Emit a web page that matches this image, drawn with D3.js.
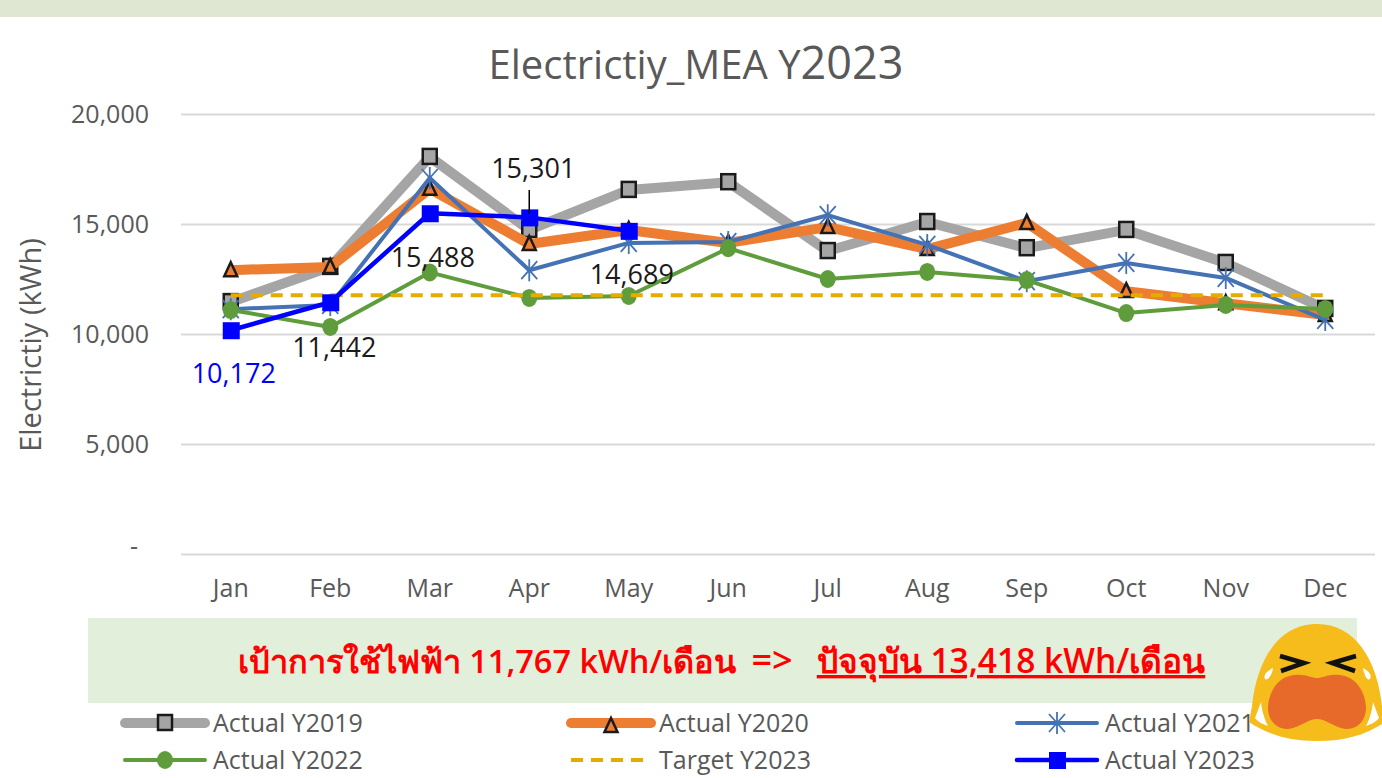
<!DOCTYPE html>
<html>
<head>
<meta charset="utf-8">
<script src="https://cdn.jsdelivr.net/npm/d3@7"></script>
<style>
html, body { margin: 0; padding: 0; background: #fff; }
svg { display: block; }
text { font-family: "Open Sans", "Noto Sans", sans-serif; }
</style>
</head>
<body>
<div id="chart"></div>
<script>
// Chart values
var months = ["Jan", "Feb", "Mar", "Apr", "May", "Jun", "Jul", "Aug", "Sep", "Oct", "Nov", "Dec"];
var actual2019 = [11450, 13050, 18050, 14730, 16550, 16900, 13770, 15090, 13900, 14730, 13230, 11140];
var actual2020 = [12900, 13050, 16600, 14090, 14730, 14140, 14860, 13860, 15050, 11950, 11400, 10860];
var actual2021 = [11130, 11320, 17090, 12900, 14140, 14180, 15400, 14050, 12400, 13230, 12550, 10640];
var actual2022 = [11090, 10320, 12800, 11640, 11730, 13900, 12500, 12820, 12450, 10950, 11320, 11140];
var target2023 = [11767, 11767, 11767, 11767, 11767, 11767, 11767, 11767, 11767, 11767, 11767, 11767];
var actual2023 = [10172, 11442, 15488, 15301, 14689];
var yTicks = [0, 5000, 10000, 15000, 20000];

var svgWidth = 1382;
var svgHeight = 778;

var svg = d3.select("#chart")
    .append("svg")
    .attr("width", svgWidth)
    .attr("height", svgHeight);

// Band across the top of the slide
svg.append("rect")
    .attr("width", svgWidth)
    .attr("height", 17)
    .attr("fill", "#dfe6d1");

// Scales
var xScale = d3.scaleBand()
    .domain(months)
    .range([181, 1375]);

var yScale = d3.scaleLinear()
    .domain([0, 20000])
    .range([554, 114]);

// Series drawn in the same order as the original
var series = [
    { name: "Actual Y2019", values: actual2019, color: "#a5a5a5", width: 10, marker: "square" },
    { name: "Actual Y2020", values: actual2020, color: "#ed7d31", width: 10, marker: "triangle" },
    { name: "Actual Y2021", values: actual2021, color: "#4472b4", width: 4, marker: "star" },
    { name: "Actual Y2022", values: actual2022, color: "#5f9c3c", width: 4, marker: "circle" },
    { name: "Target Y2023", values: target2023, color: "#e5ac00", width: 4, marker: "none", dash: "12,8" },
    { name: "Actual Y2023", values: actual2023, color: "#0000ff", width: 4.5, marker: "blue" }
];

// Gridlines and y axis
var yAxis = d3.axisLeft(yScale)
    .tickValues(yTicks)
    .tickSize(-(1375 - 181))
    .tickPadding(32)
    .tickFormat(function (d) { return d === 0 ? "-" : d3.format(",")(d); });

var yGroup = svg.append("g")
    .attr("transform", "translate(181,0)")
    .call(yAxis);
yGroup.select(".domain").remove();
yGroup.selectAll("line").attr("stroke", "#d9d9d9").attr("stroke-width", 2);
yGroup.selectAll("text").attr("fill", "#595959").attr("font-size", 25);
// the zero tick sits a bit further left and higher
yGroup.selectAll("text").filter(function (d) { return d === 0; })
    .attr("dx", -11)
    .attr("dy", "0");

// x axis
var xAxis = d3.axisBottom(xScale).tickSize(0).tickPadding(25);
var xGroup = svg.append("g")
    .attr("transform", "translate(0,554)")
    .call(xAxis);
xGroup.select(".domain").remove();
xGroup.selectAll("text").attr("fill", "#595959").attr("font-size", 25);

// Title and axis label
var title = svg.append("text")
    .attr("x", 696)
    .attr("y", 79)
    .attr("text-anchor", "middle")
    .attr("fill", "#595959")
    .attr("font-size", 40)
    .text("Electrictiy_MEA Y");
title.append("tspan")
    .attr("font-size", 45)
    .text("2023");

svg.append("text")
    .attr("transform", "translate(41,345) rotate(-90)")
    .attr("text-anchor", "middle")
    .attr("fill", "#595959")
    .attr("font-size", 29)
    .text("Electrictiy (kWh)");

// Marker drawing, used by the plot and the legend
function drawMarker(group, type) {
    if (type === "square") {
        group.append("rect")
            .attr("x", -7).attr("y", -8).attr("width", 14).attr("height", 15)
            .attr("fill", "#a5a5a5").attr("stroke", "#1a1a1a").attr("stroke-width", 2.5);
    } else if (type === "triangle") {
        group.append("path")
            .attr("d", "M0,-8L6.5,6L-6.5,6Z")
            .attr("fill", "#ed7d31").attr("stroke", "#1a1a1a").attr("stroke-width", 2.5);
    } else if (type === "star") {
        group.append("path")
            .attr("d", "M-8,-9L8,9M-8,9L8,-9M0,-11L0,11")
            .attr("fill", "none").attr("stroke", "#4472b4").attr("stroke-width", 1.8);
    } else if (type === "circle") {
        group.append("ellipse")
            .attr("rx", 8).attr("ry", 9)
            .attr("fill", "#5f9c3c");
    } else if (type === "blue") {
        group.append("rect")
            .attr("x", -8).attr("y", -8).attr("width", 17).attr("height", 17)
            .attr("fill", "#0000ff");
    }
}

var line = d3.line()
    .x(function (d, i) { return xScale(months[i]) + xScale.bandwidth() / 2; })
    .y(function (d) { return yScale(d); });

series.forEach(function (s) {
    var group = svg.append("g");

    group.append("path")
        .datum(s.values)
        .attr("fill", "none")
        .attr("stroke", s.color)
        .attr("stroke-width", s.width)
        .attr("stroke-linejoin", "round")
        .attr("stroke-dasharray", s.dash || null)
        .attr("d", line);

    s.values.forEach(function (v, i) {
        var m = group.append("g")
            .attr("transform", "translate(" + (xScale(months[i]) + xScale.bandwidth() / 2) + "," + yScale(v) + ")");
        drawMarker(m, s.marker);
    });
});

// Data labels of the 2023 series
var labelOffsets = [[3, 53], [4, 55], [3, 54], [4, -39], [3, 53]];
var labelColors = ["#0000ff", "#1a1a1a", "#1a1a1a", "#1a1a1a", "#1a1a1a"];

actual2023.forEach(function (v, i) {
    svg.append("text")
        .attr("x", xScale(months[i]) + xScale.bandwidth() / 2 + labelOffsets[i][0])
        .attr("y", yScale(v) + labelOffsets[i][1])
        .attr("text-anchor", "middle")
        .attr("fill", labelColors[i])
        .attr("font-size", 27)
        .text(d3.format(",")(v));
});

// Leader line for the April label
svg.append("line")
    .attr("x1", xScale("Apr") + xScale.bandwidth() / 2)
    .attr("x2", xScale("Apr") + xScale.bandwidth() / 2)
    .attr("y1", 190)
    .attr("y2", 214)
    .attr("stroke", "#000")
    .attr("stroke-width", 1.5);

// Green note box
svg.append("rect")
    .attr("x", 88)
    .attr("y", 618)
    .attr("width", 1269)
    .attr("height", 85)
    .attr("fill", "#e2efda");

svg.append("text")
    .attr("x", 487)
    .attr("y", 673)
    .attr("text-anchor", "middle")
    .attr("fill", "#ff0000")
    .attr("font-size", 32.5)
    .attr("font-weight", 600)
    .text("เป้าการใช้ไฟฟ้า 11,767 kWh/เดือน");

svg.append("text")
    .attr("x", 772)
    .attr("y", 673)
    .attr("text-anchor", "middle")
    .attr("fill", "#ff0000")
    .attr("font-size", 36)
    .attr("font-weight", 600)
    .text("=>");

svg.append("text")
    .attr("x", 1011)
    .attr("y", 673)
    .attr("text-anchor", "middle")
    .attr("fill", "#ff0000")
    .attr("font-size", 33.5)
    .attr("font-weight", 600)
    .attr("text-decoration", "underline")
    .text("ปัจจุบัน 13,418 kWh/เดือน");

// Legend, 3 columns by 2 rows
var legendX = [122, 568, 1014];
var legendY = [723, 760];

series.forEach(function (s, i) {
    var x = legendX[i % 3];
    var y = legendY[Math.floor(i / 3)];
    var g = svg.append("g").attr("transform", "translate(" + x + "," + y + ")");

    g.append("line")
        .attr("x1", 3)
        .attr("x2", 83)
        .attr("stroke", s.color)
        .attr("stroke-width", s.width)
        .attr("stroke-linecap", s.dash ? "butt" : "round")
        .attr("stroke-dasharray", s.dash || null);

    var m = g.append("g").attr("transform", "translate(43," + (s.marker === "triangle" ? 3 : 0) + ")");
    drawMarker(m, s.marker);

    g.append("text")
        .attr("x", 91)
        .attr("y", 9)
        .attr("fill", "#595959")
        .attr("font-size", 25)
        .text(s.name);
});

// Crying face sticker
var face = svg.append("g").attr("transform", "translate(1317,684)");
face.append("path")
    .attr("d", "M0,-60C38,-60 60,-25 65,22L68,38C50,50 30,57 0,57C-30,57 -50,50 -68,38L-65,22C-60,-25 -38,-60 0,-60Z")
    .attr("fill", "#f5bc1c");
face.append("path")
    .attr("d", "M-28,-8C-14,-12 -6,-6 0,-6C6,-6 14,-12 28,-8C42,-4 49,12 49,24C49,38 38,48 24,44C14,41 8,35 0,35C-8,35 -14,41 -24,44C-38,48 -49,38 -49,24C-49,12 -42,-4 -28,-8Z")
    .attr("fill", "#e86a2b");
face.append("path")
    .attr("d", "M-37,-28L-13,-21L-36,-13")
    .attr("fill", "none").attr("stroke", "#111").attr("stroke-width", 4.5);
face.append("path")
    .attr("d", "M39,-28L15,-21L38,-13")
    .attr("fill", "none").attr("stroke", "#111").attr("stroke-width", 4.5);
// tears
face.append("path")
    .attr("d", "M-44,-16C-50,-13 -54,-9 -52,-5C-49,-3 -45,-9 -44,-16Z")
    .attr("fill", "#fff");
face.append("path")
    .attr("d", "M46,-16C52,-13 55,-9 53,-5C50,-3 47,-9 46,-16Z")
    .attr("fill", "#fff");
face.append("path")
    .attr("d", "M-56,18C-55,28 -52,36 -49,42C-55,40 -60,37 -62,34Z")
    .attr("fill", "#fff");
face.append("path")
    .attr("d", "M56,18C55,28 52,36 49,42C55,40 60,37 62,34Z")
    .attr("fill", "#fff");
</script>
</body>
</html>
